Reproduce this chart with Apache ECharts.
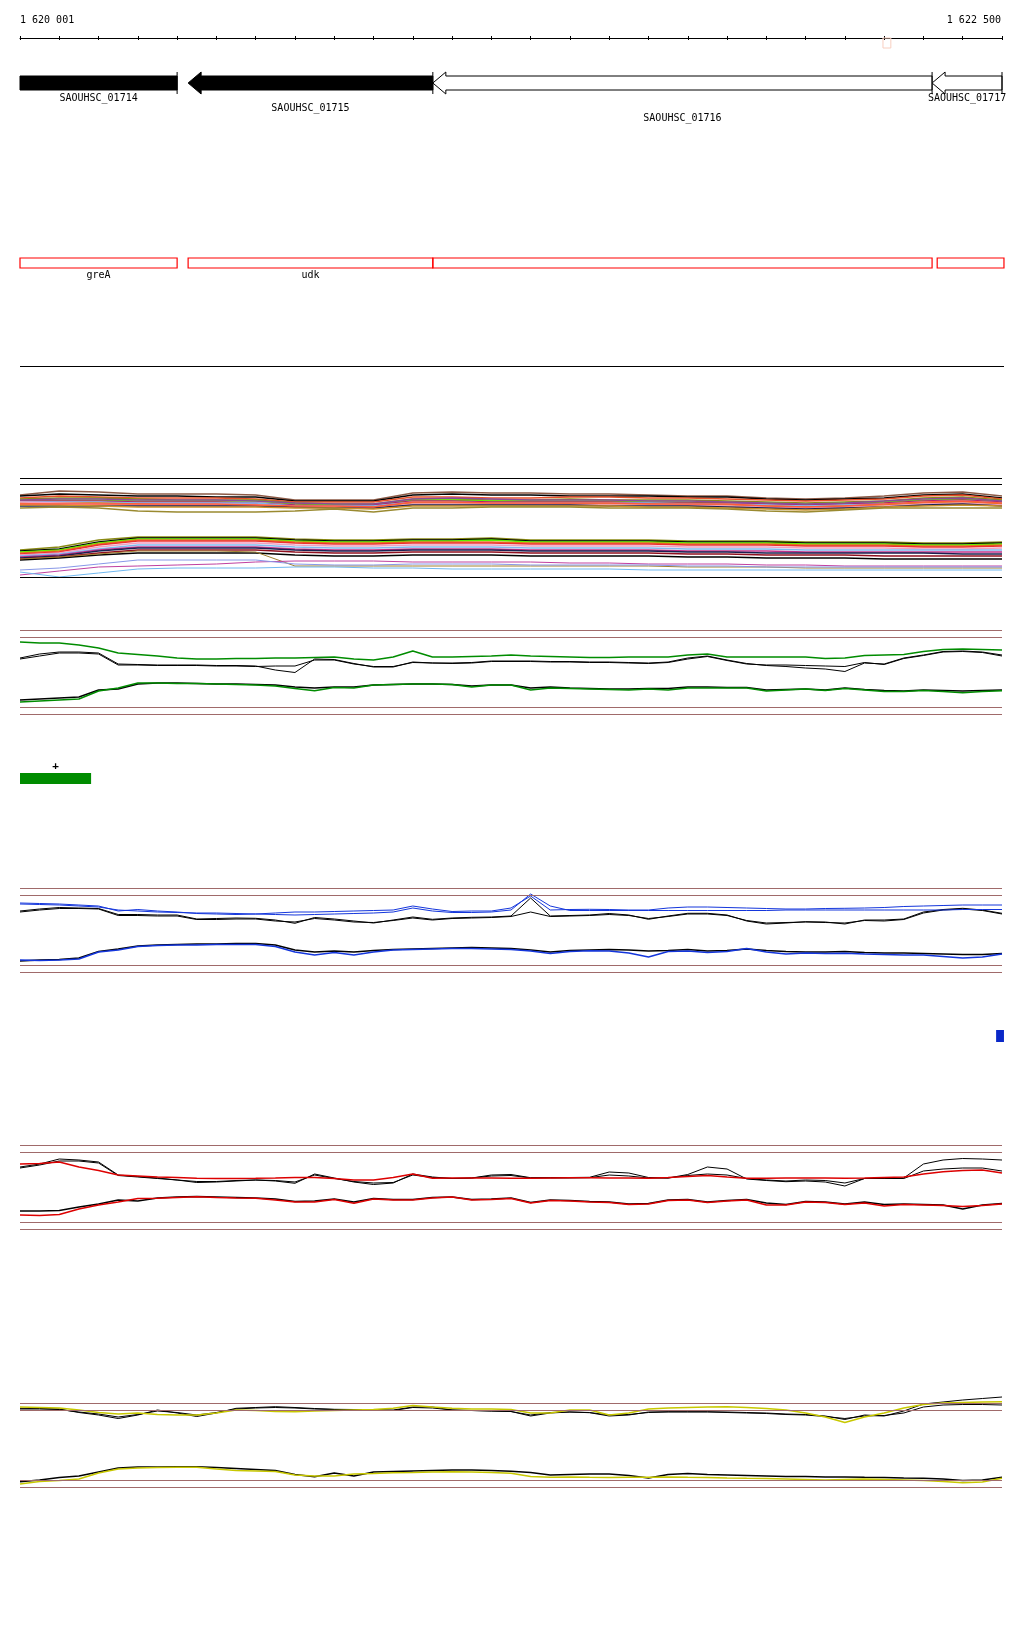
<!DOCTYPE html>
<html>
<head>
<meta charset="utf-8">
<script src="https://cdn.jsdelivr.net/npm/echarts/dist/echarts.min.js"></script>
<style>
  html, body { margin: 0; padding: 0; background: #fff; }
  #chart { width: 1024px; height: 1640px; }
</style>
</head>
<body>
<div id="chart"></div>
<script>
const START = 1620000
const END = 1622500
// sample positions of the graph tracks (every 50 bp / 100 bp)
const pos50 = Array.from({ length: 51 }, (_, i) => START + i * 50)
const pos100 = Array.from({ length: 26 }, (_, i) => START + i * 100)

const rulerLabels = ['1 620 001', '1 622 500']

// genes
const geneNames = ['SAOUHSC_01714', 'SAOUHSC_01715', 'SAOUHSC_01716', 'SAOUHSC_01717']
const geneStart = [1620000, 1620428, 1621051, 1622322]
const geneEnd = [1620400, 1621051, 1622322, 1622500]
const geneDir = [0, -1, -1, -1] // -1 = reverse strand arrow
const geneFilled = [1, 1, 0, 0]
const geneRow = [0, 1, 2, 0] // label row

// CDS boxes
const cdsNames = ['greA', 'udk', '', '']
const cdsStart = [1620000, 1620428, 1621051, 1622335]
const cdsEnd = [1620400, 1621051, 1622322, 1622505]

// feature bars
const greenBar = [[1620000, 1620181]]
const blueBar = [[1622485, 1622505]]
const rulerMark = [[1622197, 1622217]]

// multi sample coverage track (every 100 bp)
const multiTop = [
  [85, 89, 88, 86, 86, 86, 85, 80, 80, 80, 87, 88, 87, 87, 86, 86, 85, 84, 84, 82, 81, 82, 84, 87, 88, 84],
  [84, 86, 85, 84, 84, 83, 83, 79, 79, 79, 85, 86, 85, 85, 84, 84, 84, 83, 83, 81, 80, 81, 82, 85, 86, 82],
  [82, 84, 83, 82, 82, 82, 81, 78, 78, 78, 83, 83, 82, 82, 83, 83, 82, 82, 81, 80, 79, 80, 81, 84, 85, 81],
  [81, 82, 82, 81, 80, 80, 80, 77, 76, 76, 81, 81, 80, 80, 81, 80, 80, 80, 79, 78, 77, 78, 79, 82, 83, 80],
  [80, 80, 80, 79, 79, 79, 79, 76, 75, 75, 80, 80, 79, 79, 79, 79, 78, 78, 77, 77, 76, 77, 78, 80, 81, 79],
  [79, 79, 79, 78, 78, 78, 77, 75, 74, 75, 79, 79, 78, 78, 78, 78, 77, 77, 77, 76, 75, 76, 77, 79, 80, 78],
  [78, 78, 78, 77, 77, 77, 77, 74, 74, 74, 78, 78, 77, 77, 77, 77, 77, 76, 76, 75, 74, 75, 76, 78, 79, 77],
  [77, 77, 77, 76, 75, 75, 75, 73, 73, 73, 77, 77, 76, 76, 76, 76, 76, 75, 75, 74, 73, 74, 75, 77, 78, 76],
  [78, 77, 76, 75, 75, 75, 75, 73, 73, 72, 76, 76, 76, 76, 75, 75, 75, 75, 74, 73, 72, 73, 74, 76, 77, 75],
  [74, 74, 74, 74, 74, 74, 74, 73, 72, 72, 75, 75, 75, 75, 75, 74, 74, 74, 73, 72, 71, 72, 73, 75, 76, 74],
  [75, 75, 74, 73, 73, 73, 73, 72, 72, 71, 74, 74, 74, 74, 74, 74, 73, 73, 72, 71, 70, 71, 73, 74, 75, 74],
  [72, 73, 72, 69, 68, 68, 68, 69, 71, 68, 72, 72, 73, 73, 73, 72, 72, 72, 71, 69, 68, 70, 72, 72, 72, 72],
  [76, 76, 76, 76, 76, 76, 75, 74, 74, 73, 78, 78, 77, 77, 77, 77, 76, 76, 76, 74, 73, 74, 76, 78, 79, 77],
  [80, 81, 81, 80, 80, 80, 79, 77, 76, 76, 81, 82, 81, 80, 80, 80, 79, 79, 78, 77, 76, 77, 79, 81, 82, 79]
]
const multiTopColors = ['#8c5a46', '#000000', '#e8502a', '#8a8a14', '#5ef000', '#b0206e', '#80b8f0',
  '#e07a1c', '#f0a0c0', '#1a2050', '#c8902a', '#9a8a30', '#ff5a3c', '#8a4a9a']

const multiLow = [
  [30, 33, 40, 43, 43, 43, 43, 41, 40, 40, 41, 41, 42, 40, 40, 40, 40, 39, 39, 39, 38, 38, 38, 37, 37, 38],
  [29, 31, 38, 42, 42, 42, 42, 40, 39, 39, 40, 40, 41, 39, 39, 39, 39, 38, 38, 38, 37, 37, 37, 36, 36, 37],
  [28, 30, 37, 41, 41, 41, 41, 39, 38, 38, 39, 39, 40, 38, 38, 38, 38, 37, 37, 37, 36, 36, 36, 35, 35, 36],
  [27, 29, 36, 40, 40, 40, 40, 38, 37, 37, 38, 38, 38, 37, 37, 37, 37, 36, 36, 36, 35, 35, 35, 34, 34, 35],
  [26, 28, 35, 39, 39, 39, 39, 37, 36, 36, 37, 37, 37, 36, 36, 36, 36, 35, 35, 35, 34, 34, 34, 33, 33, 34],
  [25, 27, 33, 37, 37, 37, 37, 35, 34, 34, 35, 35, 35, 34, 34, 34, 34, 33, 33, 33, 32, 32, 32, 31, 31, 32],
  [24, 26, 31, 35, 35, 35, 35, 33, 32, 32, 33, 33, 33, 32, 32, 32, 32, 31, 31, 31, 30, 30, 30, 30, 30, 30],
  [23, 25, 30, 33, 33, 33, 33, 31, 30, 30, 31, 31, 31, 30, 30, 30, 30, 29, 29, 29, 28, 28, 28, 28, 28, 28],
  [22, 24, 29, 32, 32, 32, 32, 30, 29, 29, 30, 30, 30, 29, 29, 29, 29, 28, 28, 27, 27, 27, 27, 27, 26, 26],
  [21, 23, 27, 30, 30, 30, 30, 28, 27, 27, 28, 28, 28, 27, 27, 27, 27, 26, 26, 25, 25, 25, 24, 24, 24, 24],
  [20, 22, 25, 27, 27, 27, 27, 25, 24, 24, 25, 25, 25, 24, 24, 24, 24, 23, 23, 22, 22, 22, 21, 21, 21, 21],
  [21, 23, 26, 29, 29, 29, 28, 14, 14, 14, 14, 14, 14, 14, 14, 14, 14, 13, 13, 13, 12, 12, 12, 12, 12, 12],
  [5, 9, 13, 14, 15, 16, 18, 19, 19, 19, 18, 18, 18, 18, 17, 17, 16, 16, 16, 15, 15, 14, 14, 14, 14, 14],
  [8, 3, 7, 11, 12, 12, 12, 13, 13, 12, 12, 11, 11, 11, 11, 11, 10, 10, 10, 10, 10, 10, 10, 10, 10, 10],
  [10, 12, 16, 20, 20, 20, 20, 16, 15, 15, 16, 16, 16, 15, 15, 15, 15, 14, 14, 13, 13, 13, 13, 13, 13, 13]
]
const multiLowColors = ['#8a8a14', '#000000', '#5ef000', '#e07a1c', '#ee3030', '#f0a0c0', '#80b8f0',
  '#c0308a', '#1a2050', '#901020', '#000000', '#a08030', '#c040a0', '#70b8f0', '#8898e8']

// green track
const gUC = [78, 77, 77, 75, 72, 67, 65.5, 64, 62, 61, 61, 61.5, 61.5, 62, 62, 62.5, 63, 61, 60, 63, 69, 63, 63, 63.5, 64, 65, 64, 63.5, 63, 62.5, 62.5, 63, 63, 63, 65, 66, 63, 63, 63, 63, 63, 61.5, 62, 64.5, 65, 65.5, 68.5, 70.5, 71, 70.5, 70]
const gUK = [62, 66, 68, 68, 67, 56, 55.5, 55, 55, 55, 54.5, 54.5, 54, 50, 47.5, 61, 60.5, 56.5, 53, 53, 58, 57, 57, 57.5, 59, 59, 59, 58.5, 58.5, 58, 58, 57.5, 57, 58, 62, 64, 60, 56.5, 54.5, 53.5, 52, 51, 48.5, 57, 56, 62, 65, 68.5, 69, 68, 65]
const gUK2 = [61, 64, 67, 67, 66, 55, 55, 54.5, 54.5, 54.5, 54, 54, 53.5, 54, 54, 60, 60, 56, 53.5, 53.5, 57.5, 57, 56.5, 57, 58.5, 58.5, 58.5, 58, 58, 57.5, 57.5, 57, 56.5, 57.5, 61, 63.5, 59.5, 56, 55, 55, 54.5, 54, 53.5, 57.5, 55.5, 61.5, 64.5, 68, 68.5, 67.5, 64]
const gLC = [18, 19, 20, 21, 29, 32, 37, 37, 36.5, 36.5, 36, 35.5, 35, 34, 31.5, 29.3, 32.5, 32, 35, 35.5, 36, 36, 35.5, 33, 35, 35, 30, 32, 31.5, 31, 30.5, 30, 31, 30, 32, 32, 32, 32, 29, 30, 31, 29.5, 31.5, 30, 28.5, 28.5, 29.5, 28.5, 27.3, 28.5, 29.3]
const gLK = [20, 21, 22, 23, 30, 31, 36, 37, 37, 36.5, 36, 36, 35.5, 35, 33, 32, 33, 33, 35, 35.5, 36, 36, 35.5, 34, 35, 35, 32, 33, 32, 31.5, 31, 31, 31.5, 31.5, 33, 33, 32.5, 32.5, 30, 30.5, 31, 30, 32, 30.5, 29.5, 29, 30, 29.5, 29, 29.5, 30]

// blue track
const bUC = [75, 74.5, 74, 73, 72, 67, 68.5, 67, 66, 64.5, 64, 63.5, 64, 65, 66, 66, 66.5, 67, 67.5, 68, 72, 69, 66.5, 67, 67, 70, 82, 68, 68.5, 68.7, 68.5, 68, 68, 70, 71, 71, 70.5, 70, 69.5, 69, 69, 69.5, 69.7, 70, 70.5, 71.5, 72, 72.5, 73, 73, 73]
const bUC2 = [74, 73.5, 73, 72, 71, 68, 67, 66, 65.5, 65, 65, 64.5, 64, 63.5, 63, 63.5, 64, 64.5, 65, 66, 70, 67, 65.5, 65.5, 66, 68, 84, 72, 67.5, 67.5, 67.5, 67.5, 67.5, 67.5, 67.5, 67.5, 67.5, 67.5, 67.5, 68, 68, 68, 68, 68, 68, 68, 68, 68, 68.5, 68.5, 68.5]
const bUK = [67, 69, 70.5, 70, 69.5, 63.5, 63.5, 63, 63, 59, 59.5, 60, 59.7, 58, 54.7, 60.5, 59, 57, 55, 58, 61, 58.7, 60, 60.7, 61, 62, 80, 62, 62.5, 63, 64.5, 63, 58.7, 62, 64.7, 64.7, 63, 57, 54, 55, 56.3, 56, 54, 58, 58, 59, 66, 68.5, 69.7, 68, 64.7]
const bUK2 = [66, 68, 69.5, 69.5, 69, 62.5, 62.5, 62, 62, 58.5, 58.5, 59, 59, 57, 56, 59.5, 58, 56, 55.5, 57.5, 60, 58, 59.5, 60, 60.5, 61.5, 66, 61.5, 62, 62.5, 63.5, 62.5, 59.5, 61.5, 64, 64, 62.5, 57.5, 55, 55.5, 56, 55.5, 55, 57.5, 57, 58.5, 65, 68, 69, 67.5, 64]
const bLC = [18, 17.5, 18, 19, 26, 28, 31.5, 32.5, 33, 33, 33.5, 33.5, 33.5, 31.5, 26, 23, 25.5, 23, 26, 28, 28.5, 29, 29.5, 29.5, 29, 28.5, 27, 24.5, 26.5, 27.3, 27, 25, 21, 26.5, 27, 25.5, 26.5, 29.5, 26, 24, 25, 24.5, 24.7, 24, 23.5, 23, 23, 21.5, 20, 21, 24]
const bLK = [17, 18, 18.5, 20, 26.5, 29, 32, 33, 33.5, 34, 34, 34.5, 34.5, 33, 28, 26, 27, 26, 27.5, 28.5, 29, 29.5, 30, 30.5, 30, 29.5, 28, 26, 27.5, 28, 28.5, 28, 27, 27.5, 28.5, 27, 27.5, 29, 27.5, 26.5, 26, 26, 26.5, 25.5, 25, 25, 24.5, 24, 23.5, 23.5, 24.5]

// red track
const rUC = [71, 71.5, 73, 68, 64.5, 60, 59, 58, 57.5, 56.7, 56.5, 56.5, 56.7, 57, 57.5, 57.5, 56.5, 55, 55, 57.5, 61, 56.7, 57, 57, 57, 56.7, 56.7, 57, 57.3, 57.3, 57, 57, 56.7, 57.5, 58.5, 59.5, 58, 56.7, 56.7, 57, 57, 57, 56.7, 57, 57.5, 58, 61, 63.3, 64.5, 65, 62]
const rUK = [68, 71, 76, 75, 73, 60, 58.5, 57, 55, 52.5, 53, 54, 55, 54, 51.7, 61, 57, 53, 50.5, 52, 61, 58, 56.5, 57, 60, 60.5, 57.3, 57.5, 57.5, 57.7, 63, 62, 57.5, 57, 60.5, 68, 66, 56, 54.5, 53.3, 54, 53, 49, 56.5, 56.7, 57, 71, 75, 76.5, 76, 75]
const rUK2 = [67, 70, 74, 74, 72, 59.5, 58, 56.5, 55, 53.5, 53.5, 54.5, 55, 54.5, 53, 60, 56.5, 53.5, 52, 52.5, 60, 57.5, 56.5, 57, 59, 59.5, 57, 57, 57, 57.3, 60, 59, 57, 57, 59.5, 61, 60, 56.5, 55, 54, 55, 54.5, 52, 56.5, 56.5, 56.5, 64, 66, 67, 67, 64]
const rLC = [20, 19.5, 20.5, 26, 30, 33, 36.5, 36.7, 37.5, 38.3, 37.5, 37, 36.7, 35, 33, 33, 35.5, 31.7, 36, 35, 35, 37, 38, 35, 35.5, 36.5, 32, 34.5, 34, 33, 32.5, 30.5, 31, 34.5, 35, 32.5, 34, 35, 30, 30, 33, 32.5, 30.5, 32, 29, 30.5, 30, 29.5, 28.5, 29.5, 31]
const rLK = [24, 24, 24.5, 28, 31, 35, 34, 37, 38, 38.5, 38, 37.5, 37, 36, 33.5, 34, 36, 33, 36.5, 35.5, 35.5, 37.5, 38, 35.5, 36, 37, 32.5, 35, 34.5, 33.5, 33, 31, 31.5, 35, 35.5, 33, 34.5, 35.5, 32, 30.5, 33.5, 33, 31, 33, 30.5, 31, 30.5, 30, 26, 30, 31.5]

// yellow track
const yUC = [86, 85.5, 85, 83, 80.5, 79, 80, 78.5, 78, 78, 80, 83, 82.5, 81.5, 81.3, 82, 82.5, 83, 83.5, 84.7, 87.5, 86, 84.7, 84, 84, 83.5, 80, 80, 83, 83, 78, 80, 84, 85, 85.5, 86, 86.3, 85.5, 84.5, 83, 80, 76, 70.5, 76, 80, 85, 88.5, 90, 90.5, 91, 91.3]
const yUK = [84.7, 84.5, 84, 80.5, 78, 74.5, 78, 83, 80, 76.5, 80, 84.7, 85.5, 86.3, 85.5, 84.5, 83.7, 83.5, 83.3, 83, 86, 86, 83, 82.5, 82, 81.5, 77, 80, 81, 80.3, 77, 78, 81, 81.3, 81.3, 81.3, 81, 80.5, 80, 79, 78.5, 77, 73.5, 78, 77, 82, 89, 91, 93, 94.5, 96]
const yUK2 = [84, 84, 83.5, 81, 79, 76, 78.5, 82, 80.5, 78, 80.5, 84, 85, 85.5, 85, 84, 83.5, 83, 83, 82.5, 85.5, 85, 83, 82.5, 82, 81.5, 78, 80.5, 81, 80.5, 78, 78.5, 80.5, 81, 81, 81, 80.5, 80, 79.5, 78.5, 78, 76.5, 74.5, 77, 77.5, 80, 86, 88, 88.5, 88.5, 88]
const yLC = [9, 11.5, 12.5, 14, 20, 24, 25, 25.5, 25.7, 25.7, 24, 22.5, 22, 21.5, 18, 17, 17, 19, 19.5, 20.3, 20.5, 21, 21.3, 21, 20.5, 19.7, 16.5, 15.7, 16, 15.7, 15.5, 15.7, 15.7, 16, 15.7, 15.5, 15, 14.7, 14.5, 14, 13.5, 13, 13.5, 14, 13.5, 13, 12.5, 11.5, 10.3, 11, 14.7]
const yLK = [11.3, 13, 15.5, 17, 21, 25, 26, 26, 26.3, 26.3, 25.5, 24.5, 23.5, 22.5, 18.5, 16.3, 20, 17, 21, 21.5, 22, 22.5, 23, 23, 22.5, 21.8, 20.5, 18, 18.5, 19, 19, 17.5, 15, 18.5, 19.5, 18.5, 18, 17.5, 17, 16.5, 16.5, 16, 16, 15.7, 15.5, 15, 14.7, 14, 12.5, 13, 15.7]

const brownLevels = [90, 83, 13, 6]
const multiLevels = [102, 96, 3]

// ---------------- layout ----------------
const BROWN = '#a06a6a'
const FONT = '"DejaVu Sans Mono", monospace'
// 0 ruler, 1 genes, 2 cds, 3 multi, 4 green, 5 green bar, 6 blue, 7 blue bar, 8 red, 9 yellow
const gridTops = [36, 76, 258, 470, 620, 773, 878, 1030, 1135, 1393]
const gridHeights = [2, 14, 10, 110, 100, 11, 100, 12, 100, 100]
const yMax = [1, 1, 1, 110, 100, 1, 100, 1, 100, 100]

const grid = gridTops.map((t, i) => ({ left: 20, width: 982, top: t, height: gridHeights[i] }))
const xAxis = gridTops.map((t, i) => ({
  gridIndex: i,
  type: 'value',
  min: START,
  max: END,
  interval: 100,
  show: i === 0,
  position: 'bottom',
  axisLine: { show: true, lineStyle: { color: '#000', width: 1 } },
  axisTick: { show: true, length: 2, lineStyle: { color: '#000' } },
  axisLabel: { show: false },
  splitLine: { show: false }
}))
xAxis.push({
  gridIndex: 0,
  type: 'value',
  min: START,
  max: END,
  interval: 100,
  position: 'top',
  axisLine: { show: false },
  axisTick: { show: true, inside: true, length: 2, lineStyle: { color: '#000' } },
  axisLabel: { show: false },
  splitLine: { show: false }
})
const yAxis = gridTops.map((t, i) => ({
  gridIndex: i, type: 'value', min: 0, max: yMax[i], show: false
}))

function lineSeries(g, xs, ys, color, width, extra) {
  return Object.assign({
    type: 'line',
    xAxisIndex: g,
    yAxisIndex: g,
    data: ys.map((v, i) => [xs[i], v]),
    symbol: 'none',
    showSymbol: false,
    silent: true,
    lineStyle: { color: color, width: width || 1 }
  }, extra || {})
}

function levels(vals, color, width) {
  return {
    silent: true,
    symbol: 'none',
    animation: false,
    label: { show: false },
    lineStyle: { color: color, width: width, type: 'solid' },
    data: vals.map(v => ({ yAxis: v }))
  }
}

function renderGene(params, api) {
  const i = params.dataIndex
  const a = api.coord([api.value(0), 1])
  const b = api.coord([api.value(1), 0])
  const x0 = a[0], x1 = b[0], top = a[1], bot = b[1], mid = (top + bot) / 2
  const head = 13, flare = 4
  let pts
  if (api.value(2) < 0) {
    pts = [[x0, mid], [x0 + head, top - flare], [x0 + head, top], [x1, top], [x1, bot], [x0 + head, bot], [x0 + head, bot + flare]]
  } else {
    pts = [[x0, top], [x1, top], [x1, bot], [x0, bot]]
  }
  return {
    type: 'group',
    children: [
      { type: 'polygon', shape: { points: pts }, style: { fill: api.value(3) === 1 ? '#000' : '#fff', stroke: '#000', lineWidth: 1 } },
      { type: 'line', shape: { x1: x1, y1: top - flare, x2: x1, y2: bot + flare }, style: { stroke: '#000', lineWidth: 1 } },
      { type: 'text', style: { text: geneNames[i], x: (x0 + x1) / 2, y: bot + 8 + api.value(4) * 10, align: 'center', verticalAlign: 'middle', fill: '#000', fontSize: 10, fontFamily: FONT } }
    ]
  }
}

function renderCds(params, api) {
  const i = params.dataIndex
  const a = api.coord([api.value(0), 1])
  const b = api.coord([api.value(1), 0])
  return {
    type: 'group',
    children: [
      { type: 'rect', shape: { x: a[0], y: a[1], width: b[0] - a[0], height: b[1] - a[1] }, style: { fill: 'none', stroke: '#ff0000', lineWidth: 1.2 } },
      { type: 'text', style: { text: cdsNames[i], x: (a[0] + b[0]) / 2, y: b[1] + 7, align: 'center', verticalAlign: 'middle', fill: '#000', fontSize: 10, fontFamily: FONT } }
    ]
  }
}

function barRenderer(color, sign) {
  return function (params, api) {
    const a = api.coord([api.value(0), 1])
    const b = api.coord([api.value(1), 0])
    const children = [{ type: 'rect', shape: { x: a[0], y: a[1], width: b[0] - a[0], height: b[1] - a[1] }, style: { fill: color } }]
    if (sign) children.push({ type: 'text', style: { text: sign, x: (a[0] + b[0]) / 2, y: a[1] - 7, align: 'center', verticalAlign: 'middle', fill: '#000', fontSize: 11, fontWeight: 'bold', fontFamily: FONT } })
    return { type: 'group', children: children }
  }
}

function renderMark(params, api) {
  const a = api.coord([api.value(0), 0])
  const b = api.coord([api.value(1), 0])
  return { type: 'rect', shape: { x: a[0], y: a[1], width: b[0] - a[0], height: 10 }, style: { fill: 'none', stroke: '#f8cfc0', lineWidth: 1 } }
}

const series = []

series.push({ type: 'custom', xAxisIndex: 0, yAxisIndex: 0, renderItem: renderMark, data: rulerMark, silent: true })
series.push({
  type: 'custom', xAxisIndex: 1, yAxisIndex: 1, renderItem: renderGene, silent: true,
  data: geneStart.map((s, i) => [s, geneEnd[i], geneDir[i], geneFilled[i], geneRow[i]])
})
series.push({
  type: 'custom', xAxisIndex: 2, yAxisIndex: 2, renderItem: renderCds, silent: true,
  data: cdsStart.map((s, i) => [s, cdsEnd[i]])
})

// multi sample track
multiTop.forEach((ys, k) => {
  series.push(lineSeries(3, pos100, ys, multiTopColors[k], 1.3))
})
multiLow.forEach((ys, k) => {
  series.push(lineSeries(3, pos100, ys, multiLowColors[k], k > 10 ? 1 : 1.3))
})
series[series.length - 1].markLine = levels(multiLevels, '#000', 1)

// graph tracks
const tracks = [
  { g: 4, color: '#008c00', upC: [gUC], upK: [gUK, gUK2], lowC: gLC, lowK: gLK },
  { g: 6, color: '#1436dc', upC: [bUC, bUC2], upK: [bUK, bUK2], lowC: bLC, lowK: bLK },
  { g: 8, color: '#dd0000', upC: [rUC], upK: [rUK, rUK2], lowC: rLC, lowK: rLK },
  { g: 9, color: '#c8c800', upC: [yUC], upK: [yUK, yUK2], lowC: yLC, lowK: yLK }
]
tracks.forEach(t => {
  const first = lineSeries(t.g, pos50, t.upK[0], '#000', 1)
  first.markLine = levels(brownLevels, BROWN, 1)
  series.push(first)
  t.upK.slice(1).forEach(ys => series.push(lineSeries(t.g, pos50, ys, '#000', 1)))
  series.push(lineSeries(t.g, pos50, t.lowK, '#000', 1.5))
  t.upC.forEach(ys => series.push(lineSeries(t.g, pos50, ys, t.color, t.upC.length > 1 ? 1 : 1.5)))
  series.push(lineSeries(t.g, pos50, t.lowC, t.color, 1.5))
})

series.push({ type: 'custom', xAxisIndex: 5, yAxisIndex: 5, renderItem: barRenderer('#008c00', '+'), data: greenBar, silent: true })
series.push({ type: 'custom', xAxisIndex: 7, yAxisIndex: 7, renderItem: barRenderer('#0a28c8', ''), data: blueBar, silent: true })

const chart = echarts.init(document.getElementById('chart'))
chart.setOption({
  animation: false,
  backgroundColor: '#fff',
  textStyle: { fontFamily: FONT },
  grid: grid,
  xAxis: xAxis,
  yAxis: yAxis,
  series: series,
  graphic: [
    { type: 'text', left: 20, top: 15, style: { text: rulerLabels[0], fill: '#000', fontSize: 10, fontFamily: FONT } },
    { type: 'text', right: 23, top: 15, style: { text: rulerLabels[1], fill: '#000', fontSize: 10, fontFamily: FONT } },
    { type: 'line', shape: { x1: 20, y1: 366.5, x2: 1004, y2: 366.5 }, style: { stroke: '#000', lineWidth: 1 } }
  ]
})
</script>
</body>
</html>
